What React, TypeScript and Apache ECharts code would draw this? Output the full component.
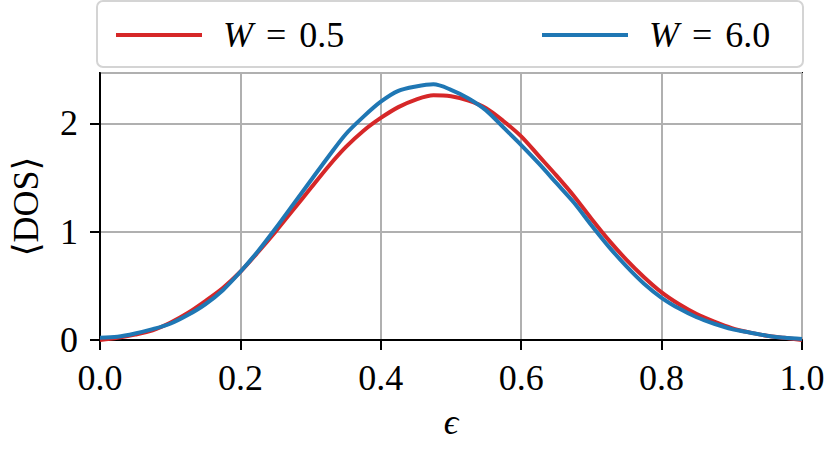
import React, { useEffect, useRef } from "react";
import * as echarts from "echarts";

const eps = [
  0.0, 0.025, 0.05, 0.075, 0.1, 0.125, 0.15, 0.175, 0.2, 0.225, 0.25, 0.275, 0.3, 0.325, 0.35, 0.375,
  0.4, 0.425, 0.45, 0.475, 0.5, 0.525, 0.55, 0.575, 0.6, 0.625, 0.65, 0.675, 0.7, 0.725, 0.75, 0.775,
  0.8, 0.825, 0.85, 0.875, 0.9, 0.925, 0.95, 0.975, 1.0,
];

const dosW05 = [
  0.0, 0.02, 0.05, 0.09, 0.16, 0.25, 0.36, 0.48, 0.63, 0.81, 1.0, 1.2, 1.4, 1.6, 1.78, 1.93,
  2.05, 2.15, 2.22, 2.26, 2.25, 2.21, 2.14, 2.02, 1.88, 1.7, 1.52, 1.33, 1.12, 0.92, 0.74, 0.58,
  0.44, 0.33, 0.24, 0.17, 0.11, 0.07, 0.04, 0.02, 0.0,
];

const dosW60 = [
  0.02, 0.03, 0.06, 0.1, 0.15, 0.23, 0.33, 0.46, 0.63, 0.82, 1.03, 1.25, 1.47, 1.69, 1.9, 2.06,
  2.2, 2.3, 2.34, 2.36, 2.31, 2.23, 2.12, 1.96, 1.8, 1.63, 1.45, 1.27, 1.06, 0.86, 0.68, 0.52,
  0.39, 0.29, 0.21, 0.15, 0.1, 0.07, 0.04, 0.02, 0.01,
];

const seriesNames = ["W = 0.5", "W = 6.0"];
const seriesColors = ["#d62728", "#1f77b4"];
const xLabel = "\u03f5";
const yLabel = "\u27e8DOS\u27e9";

export default function App() {
  const ref = useRef<HTMLDivElement>(null);

  useEffect(() => {
    if (!ref.current) return;
    const chart = echarts.init(ref.current, null, { renderer: "svg" });
    const font = "'Liberation Serif', 'DejaVu Serif', serif";
    const fs = 36;

    const makeLegend = (name: string, left: number) => ({
      data: [name],
      left,
      top: 12,
      icon: "rect",
      itemWidth: 86,
      itemHeight: 4,
      selectedMode: false,
      formatter: (n: string) => {
        const parts = n.split(" = ");
        return "{i|" + parts[0] + "}{e|=}" + parts[1];
      },
      textStyle: {
        fontFamily: font,
        fontSize: fs,
        color: "#000",
        padding: [0, 0, 0, 16],
        rich: {
          i: { fontStyle: "italic", fontFamily: font, fontSize: fs, color: "#000" },
          e: { fontFamily: font, fontSize: fs, color: "#000", padding: [0, 13, 0, 13] },
        },
      },
    });

    chart.setOption({
      animation: false,
      backgroundColor: "#fff",
      graphic: [
        {
          type: "rect",
          shape: { x: 97, y: 1, width: 706, height: 66, r: 6 },
          style: { fill: "#fff", stroke: "#d4d4d4", lineWidth: 2 },
          z: -1,
        },
      ],
      legend: [makeLegend(seriesNames[0], 111), makeLegend(seriesNames[1], 537)],
      grid: {
        left: 97,
        right: 27,
        top: 73,
        bottom: 109,
        show: true,
        borderColor: "#000",
        borderWidth: 2,
        backgroundColor: "transparent",
      },
      xAxis: {
        type: "value",
        min: 0,
        max: 1,
        interval: 0.2,
        name: xLabel,
        nameLocation: "middle",
        nameGap: 64,
        nameTextStyle: { fontFamily: font, fontSize: fs, fontStyle: "italic", color: "#000" },
        axisLine: { show: true, lineStyle: { color: "#000", width: 2 } },
        axisTick: { show: true, length: 10, lineStyle: { color: "#000", width: 2 } },
        axisLabel: {
          fontFamily: font,
          fontSize: fs,
          color: "#000",
          margin: 20,
          formatter: (v: number) => v.toFixed(1),
        },
        splitLine: { show: true, lineStyle: { color: "#b0b0b0", width: 2 } },
      },
      yAxis: {
        type: "value",
        min: 0,
        max: 2.465,
        interval: 1,
        name: yLabel,
        nameLocation: "middle",
        nameGap: 56,
        nameRotate: 90,
        nameTextStyle: { fontFamily: font, fontSize: fs, color: "#000" },
        axisLine: { show: true, lineStyle: { color: "#000", width: 2 } },
        axisTick: { show: true, length: 10, lineStyle: { color: "#000", width: 2 } },
        axisLabel: {
          fontFamily: font,
          fontSize: fs,
          color: "#000",
          margin: 22,
          showMaxLabel: false,
          formatter: (v: number) => String(Math.round(v)),
        },
        splitLine: { show: true, lineStyle: { color: "#b0b0b0", width: 2 } },
      },
      series: [
        {
          name: seriesNames[0],
          type: "line",
          data: eps.map((x, i) => [x, dosW05[i]]),
          showSymbol: false,
          smooth: 0.3,
          color: seriesColors[0],
          lineStyle: { color: seriesColors[0], width: 4 },
          z: 2,
        },
        {
          name: seriesNames[1],
          type: "line",
          data: eps.map((x, i) => [x, dosW60[i]]),
          showSymbol: false,
          smooth: 0.3,
          color: seriesColors[1],
          lineStyle: { color: seriesColors[1], width: 4 },
          z: 3,
        },
      ],
    });

    return () => chart.dispose();
  }, []);

  return (
    <div
      ref={ref}
      style={{ position: "fixed", left: 0, top: 0, width: 829, height: 449 }}
    />
  );
}
